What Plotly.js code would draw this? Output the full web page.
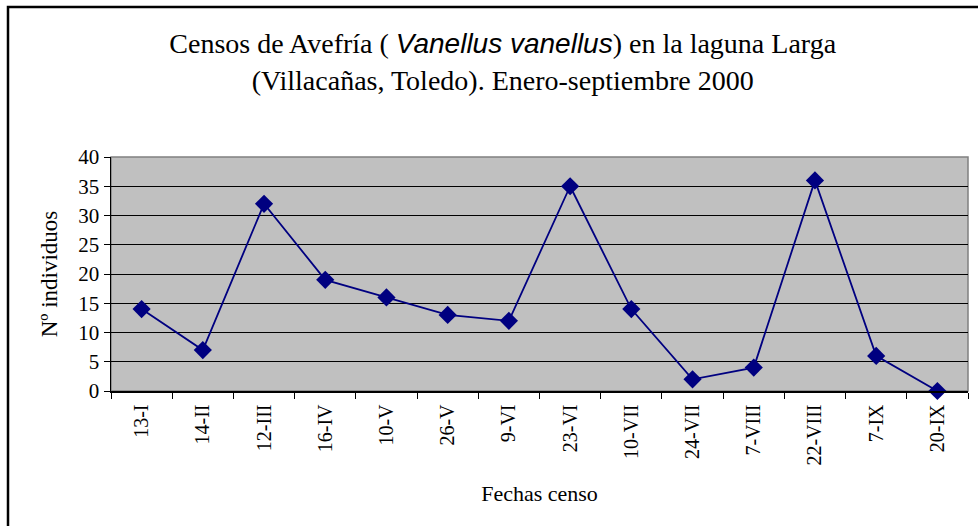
<!DOCTYPE html>
<html>
<head>
<meta charset="utf-8">
<script src="https://cdn.plot.ly/plotly-3.0.1.min.js"></script>
<style>
html,body{margin:0;padding:0;background:#fff;}
#chart{width:978px;height:526px;}
</style>
</head>
<body>
<div id="chart"></div>
<script>
const fechas = ["13-I","14-II","12-III","16-IV","10-V","26-V","9-VI","23-VI","10-VII","24-VII","7-VIII","22-VIII","7-IX","20-IX"];
const individuos = [14, 7, 32, 19, 16, 13, 12, 35, 14, 2, 4, 36, 6, 0];
const yTicks = [0,5,10,15,20,25,30,35,40];

const W = 978, H = 526;
const m = {l:111, r:10, t:157, b:135};
const pw = W - m.l - m.r, ph = H - m.t - m.b;
const px = x => (x - m.l) / pw;
const py = y => (H - m.b - y) / ph;

const trace = {
  x: fechas,
  y: individuos,
  type: 'scatter',
  mode: 'lines+markers',
  line: {color: '#000080', width: 1.8},
  marker: {symbol: 'diamond', size: 14, color: '#000080'},
  cliponaxis: false,
  hoverinfo: 'skip'
};

const serif = 'Liberation Serif, Times New Roman, serif';

const layout = {
  width: W, height: H,
  margin: m,
  paper_bgcolor: '#ffffff',
  plot_bgcolor: '#C0C0C0',
  showlegend: false,
  font: {family: serif, color: '#000000', size: 20},
  title: {
    text: 'Censos de Avefría ( <i><span style="font-family:Liberation Sans, Arial, sans-serif">Vanellus vanellus</span></i>) en la laguna Larga<br>(Villacañas, Toledo). Enero-septiembre 2000',
    font: {family: serif, size: 28, color: '#000000'},
    x: 0.514, xanchor: 'center', xref: 'container',
    y: 0.899, yanchor: 'middle', yref: 'container'
  },
  xaxis: {
    type: 'category',
    tickson: 'boundaries',
    ticks: 'outside', ticklen: 6, tickwidth: 1, tickcolor: '#000',
    tickangle: -90,
    ticklabelstandoff: 4,
    tickfont: {family: serif, size: 20},
    showgrid: false,
    showline: true, linecolor: '#000', linewidth: 1.5,
    zeroline: false,
    range: [-0.5, fechas.length - 0.5],
    title: {text: 'Fechas censo', font: {family: serif, size: 22}, standoff: 21},
    automargin: false
  },
  yaxis: {
    range: [0, 40],
    tickvals: yTicks,
    ticktext: yTicks.map(String),
    ticks: 'outside', ticklen: 6, tickwidth: 1, tickcolor: '#000',
    tickfont: {family: serif, size: 21},
    showgrid: true, gridcolor: '#000000', gridwidth: 1,
    showline: true, linecolor: '#000', linewidth: 1.5,
    zeroline: false,
    title: {text: 'Nº individuos', font: {family: serif, size: 23}, standoff: 14},
    automargin: false
  },
  shapes: [
    {type: 'rect', xref: 'paper', yref: 'paper', x0: 0, x1: 1, y0: 0, y1: 1,
     line: {color: '#808080', width: 1.5}, fillcolor: 'rgba(0,0,0,0)', layer: 'below'},
    {type: 'rect', xref: 'paper', yref: 'paper', x0: px(8), x1: px(995), y0: py(7), y1: py(545),
     line: {color: '#000000', width: 2.5}, fillcolor: 'rgba(0,0,0,0)', layer: 'above'}
  ]
};

Plotly.newPlot('chart', [trace], layout, {staticPlot: true, displayModeBar: false});
</script>
</body>
</html>
